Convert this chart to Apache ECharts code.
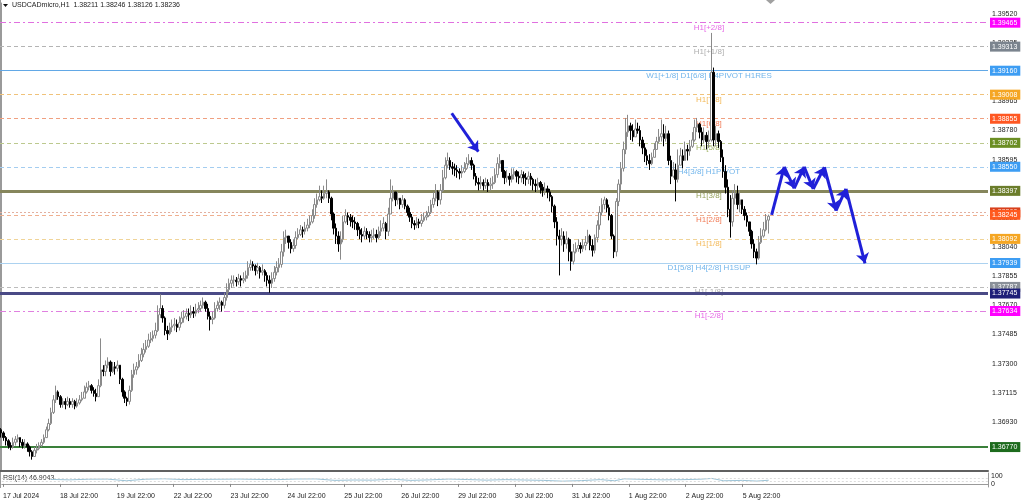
<!DOCTYPE html>
<html><head><meta charset="utf-8">
<script src="https://cdn.jsdelivr.net/npm/echarts@6/dist/echarts.min.js"></script>
<style>html,body{margin:0;padding:0;background:#fff}#c{width:1024px;height:503px}</style>
</head><body><div id="c"></div>
<script>
// ---------- DATA ----------
const symbolTitle = 'USDCADmicro,H1  1.38211 1.38246 1.38126 1.38236';
const dateLabels = ['17 Jul 2024','18 Jul 22:00','19 Jul 22:00','22 Jul 22:00','23 Jul 22:00','24 Jul 22:00','25 Jul 22:00','26 Jul 22:00','29 Jul 22:00','30 Jul 22:00','31 Jul 22:00','1 Aug 22:00','2 Aug 22:00','5 Aug 22:00'];
const barsPerLabel = 24;
const firstOpen = 1.3688;
const closes = [
1.3686,1.3683,1.3681,1.3678,1.3677,1.3680,1.3682,1.3683,1.3680,1.3678,1.3679,1.3677,1.3674,1.3671,1.3675,1.3676,1.3678,1.3680,1.3683,1.3688,1.3692,1.3699,1.3707,1.3712,
1.3709,1.3704,1.3706,1.3704,1.3706,1.3704,1.3706,1.3703,1.3705,1.3707,1.3708,1.3712,1.3715,1.3716,1.3713,1.3711,1.3709,1.3716,1.3726,1.3725,1.3729,1.3731,1.3725,1.3728,
1.3727,1.3729,1.3720,1.3712,1.3708,1.3706,1.3713,1.3723,1.3726,1.3728,1.3732,1.3736,1.3739,1.3741,1.3745,1.3746,1.3748,1.3751,1.3761,1.3765,1.3759,1.3751,1.3749,1.3753,
1.3754,1.3755,1.3753,1.3756,1.3759,1.3760,1.3762,1.3761,1.3763,1.3762,1.3764,1.3765,1.3767,1.3769,1.3765,1.3760,1.3758,1.3759,1.3765,1.3767,1.3769,1.3767,1.3772,1.3777,
1.3781,1.3783,1.3783,1.3782,1.3784,1.3783,1.3784,1.3786,1.3791,1.3793,1.3792,1.3789,1.3791,1.3788,1.3789,1.3786,1.3783,1.3781,1.3784,1.3788,1.3791,1.3793,1.3801,1.3810,
1.3811,1.3807,1.3803,1.3805,1.3810,1.3812,1.3815,1.3814,1.3816,1.3818,1.3820,1.3824,1.3831,1.3834,1.3836,1.3835,1.3838,1.3839,1.3835,1.3825,1.3816,1.3811,1.3806,1.3809,
1.3820,1.3824,1.3823,1.3821,1.3820,1.3819,1.3815,1.3812,1.3811,1.3814,1.3812,1.3810,1.3811,1.3812,1.3810,1.3814,1.3816,1.3819,1.3814,1.3825,1.3835,1.3839,1.3834,1.3835,
1.3831,1.3834,1.3830,1.3826,1.3823,1.3819,1.3818,1.3820,1.3819,1.3821,1.3823,1.3824,1.3826,1.3831,1.3835,1.3839,1.3834,1.3840,1.3848,1.3856,1.3859,1.3855,1.3854,1.3853,
1.3852,1.3851,1.3852,1.3854,1.3857,1.3859,1.3856,1.3849,1.3845,1.3844,1.3845,1.3843,1.3845,1.3843,1.3844,1.3845,1.3850,1.3857,1.3859,1.3852,1.3848,1.3849,1.3847,1.3850,
1.3852,1.3849,1.3848,1.3850,1.3848,1.3847,1.3849,1.3847,1.3844,1.3843,1.3845,1.3842,1.3840,1.3841,1.3839,1.3836,1.3830,1.3820,1.3811,1.3809,1.3811,1.3806,1.3809,1.3801,
1.3795,1.3801,1.3803,1.3805,1.3803,1.3805,1.3807,1.3811,1.3805,1.3802,1.3810,1.3818,1.3826,1.3831,1.3834,1.3829,1.3824,1.3811,1.3801,1.3833,1.3844,1.3854,1.3866,1.3877,
1.3881,1.3878,1.3874,1.3879,1.3878,1.3872,1.3867,1.3862,1.3859,1.3857,1.3861,1.3866,1.3871,1.3874,1.3876,1.3873,1.3876,1.3859,1.3849,1.3853,1.3847,1.3856,1.3862,1.3859,
1.3866,1.3865,1.3868,1.3872,1.3880,1.3882,1.3877,1.3872,1.3875,1.3871,1.3872,1.3915,1.3872,1.3876,1.3871,1.3861,1.3852,1.3842,1.3828,1.3820,1.3835,1.3838,1.3831,1.3834,
1.3828,1.3824,1.3820,1.3814,1.3806,1.3801,1.3797,1.3807,1.3811,1.3815,1.38211,1.38236
];
const highs = [
1.3689,1.3687,1.3684,1.3682,1.3680,1.3683,1.3684,1.3685,1.3683,1.3682,1.3682,1.3680,1.3678,1.3675,1.3677,1.3679,1.3680,1.3682,1.3685,1.3690,1.3695,1.3702,1.3710,1.3716,
1.3713,1.3710,1.3708,1.3708,1.3709,1.3708,1.3708,1.3707,1.3708,1.3710,1.3712,1.3716,1.3718,1.3719,1.3717,1.3715,1.3714,1.3720,1.3746,1.3729,1.3732,1.3734,1.3732,1.3731,
1.3731,1.3732,1.3729,1.3721,1.3713,1.3709,1.3716,1.3726,1.3730,1.3731,1.3736,1.3740,1.3743,1.3745,1.3749,1.3750,1.3751,1.3756,1.3767,1.3774,1.3767,1.3760,1.3754,1.3756,
1.3758,1.3759,1.3758,1.3760,1.3763,1.3764,1.3765,1.3765,1.3767,1.3766,1.3768,1.3769,1.3770,1.3772,1.3770,1.3768,1.3763,1.3763,1.3769,1.3770,1.3772,1.3770,1.3775,1.3781,
1.3784,1.3786,1.3786,1.3785,1.3787,1.3786,1.3788,1.3789,1.3795,1.3796,1.3795,1.3793,1.3794,1.3792,1.3793,1.3790,1.3788,1.3786,1.3788,1.3792,1.3795,1.3797,1.3806,1.3814,
1.3815,1.3811,1.3809,1.3809,1.3814,1.3816,1.3818,1.3817,1.3820,1.3822,1.3824,1.3828,1.3835,1.3838,1.3843,1.3840,1.3843,1.3847,1.3840,1.3836,1.3826,1.3819,1.3814,1.3814,
1.3824,1.3828,1.3826,1.3825,1.3824,1.3823,1.3820,1.3817,1.3816,1.3817,1.3816,1.3814,1.3815,1.3816,1.3815,1.3817,1.3821,1.3823,1.3820,1.3829,1.3847,1.3843,1.3839,1.3839,
1.3835,1.3837,1.3835,1.3831,1.3829,1.3825,1.3821,1.3823,1.3822,1.3825,1.3826,1.3827,1.3830,1.3834,1.3839,1.3844,1.3840,1.3844,1.3853,1.3861,1.3864,1.3861,1.3858,1.3857,
1.3856,1.3854,1.3856,1.3858,1.3861,1.3863,1.3861,1.3857,1.3851,1.3848,1.3849,1.3847,1.3848,1.3847,1.3848,1.3849,1.3854,1.3861,1.3863,1.3859,1.3853,1.3853,1.3851,1.3854,
1.3854,1.3853,1.3852,1.3853,1.3852,1.3851,1.3852,1.3851,1.3848,1.3847,1.3848,1.3846,1.3844,1.3845,1.3843,1.3841,1.3837,1.3831,1.3823,1.3815,1.3816,1.3814,1.3814,1.3810,
1.3809,1.3806,1.3807,1.3809,1.3807,1.3809,1.3811,1.3815,1.3812,1.3809,1.3812,1.3821,1.3830,1.3835,1.3836,1.3835,1.3831,1.3825,1.3812,1.3835,1.3847,1.3858,1.3871,1.3886,
1.3888,1.3883,1.3882,1.3885,1.3883,1.3881,1.3874,1.3870,1.3866,1.3863,1.3864,1.3870,1.3874,1.3879,1.3885,1.3882,1.3881,1.3878,1.3862,1.3858,1.3857,1.3866,1.3867,1.3866,
1.3871,1.3869,1.3872,1.3877,1.3885,1.3886,1.3883,1.3880,1.3880,1.3877,1.3878,1.3940,1.3918,1.3881,1.3878,1.3872,1.3866,1.3856,1.3847,1.3837,1.3840,1.3844,1.3843,1.3840,
1.3834,1.3830,1.3826,1.3820,1.3815,1.3809,1.3803,1.3811,1.3816,1.3820,1.3825,1.38246
];
const lows = [
1.3683,1.3681,1.3678,1.3676,1.3675,1.3676,1.3678,1.3680,1.3677,1.3676,1.3676,1.3674,1.3671,1.3669,1.3671,1.3673,1.3675,1.3677,1.3679,1.3683,1.3687,1.3691,1.3698,1.3705,
1.3707,1.3702,1.3702,1.3701,1.3703,1.3702,1.3702,1.3701,1.3702,1.3704,1.3706,1.3708,1.3711,1.3713,1.3711,1.3709,1.3706,1.3709,1.3715,1.3722,1.3722,1.3727,1.3722,1.3724,
1.3723,1.3725,1.3717,1.3709,1.3705,1.3703,1.3704,1.3712,1.3721,1.3723,1.3727,1.3731,1.3734,1.3737,1.3740,1.3743,1.3744,1.3746,1.3750,1.3759,1.3756,1.3748,1.3745,1.3748,
1.3750,1.3751,1.3750,1.3751,1.3755,1.3756,1.3758,1.3757,1.3759,1.3759,1.3760,1.3762,1.3763,1.3765,1.3763,1.3758,1.3751,1.3755,1.3758,1.3763,1.3764,1.3763,1.3765,1.3770,
1.3775,1.3778,1.3779,1.3779,1.3780,1.3779,1.3781,1.3782,1.3784,1.3789,1.3789,1.3786,1.3787,1.3784,1.3786,1.3782,1.3779,1.3775,1.3778,1.3782,1.3786,1.3788,1.3791,1.3798,
1.3806,1.3803,1.3800,1.3801,1.3803,1.3809,1.3811,1.3810,1.3812,1.3814,1.3816,1.3819,1.3822,1.3829,1.3833,1.3832,1.3834,1.3835,1.3832,1.3821,1.3812,1.3806,1.3801,1.3796,
1.3807,1.3819,1.3818,1.3817,1.3816,1.3815,1.3811,1.3809,1.3807,1.3809,1.3809,1.3807,1.3807,1.3809,1.3807,1.3809,1.3811,1.3814,1.3809,1.3811,1.3826,1.3833,1.3830,1.3831,
1.3828,1.3829,1.3828,1.3824,1.3820,1.3816,1.3815,1.3816,1.3816,1.3817,1.3820,1.3821,1.3823,1.3825,1.3829,1.3833,1.3830,1.3831,1.3839,1.3847,1.3854,1.3853,1.3850,1.3849,
1.3848,1.3847,1.3848,1.3851,1.3853,1.3856,1.3853,1.3847,1.3843,1.3840,1.3841,1.3840,1.3841,1.3839,1.3840,1.3841,1.3844,1.3848,1.3854,1.3848,1.3844,1.3845,1.3843,1.3845,
1.3847,1.3845,1.3844,1.3845,1.3844,1.3843,1.3844,1.3843,1.3840,1.3839,1.3840,1.3838,1.3836,1.3837,1.3835,1.3833,1.3826,1.3816,1.3805,1.3786,1.3805,1.3801,1.3803,1.3795,
1.3789,1.3793,1.3800,1.3801,1.3800,1.3801,1.3802,1.3806,1.3802,1.3798,1.3800,1.3807,1.3815,1.3824,1.3828,1.3826,1.3821,1.3809,1.3797,1.3798,1.3830,1.3840,1.3852,1.3863,
1.3874,1.3872,1.3871,1.3874,1.3876,1.3868,1.3863,1.3858,1.3856,1.3853,1.3856,1.3861,1.3866,1.3870,1.3871,1.3868,1.3871,1.3856,1.3844,1.3848,1.3833,1.3845,1.3857,1.3854,
1.3861,1.3859,1.3862,1.3867,1.3871,1.3877,1.3873,1.3868,1.3870,1.3866,1.3867,1.3871,1.3868,1.3868,1.3867,1.3858,1.3848,1.3838,1.3823,1.3810,1.3817,1.3831,1.3828,1.3826,
1.3825,1.3821,1.3817,1.3811,1.3803,1.3797,1.3793,1.3796,1.3806,1.3810,1.3814,1.38126
];
const yTicks = [1.39520,1.39335,1.39150,1.38965,1.38780,1.38595,1.38410,1.38225,1.38040,1.37855,1.37670,1.37485,1.37300,1.37115,1.36930];
const levelPrices = [1.39465,1.39313,1.39160,1.39008,1.38855,1.38702,1.38550,1.38397,1.38260,1.38245,1.38092,1.37939,1.37787,1.37745,1.37634,1.36770];
const levelLabels = ['H1[+2/8]','H1[+1/8]','W1[+1/8] D1[6/8] H4PIVOT H1RES','H1[7/8]','H1[6/8]','H1[5/8]','H4[3/8] H1PIVOT','H1[3/8]','','H1[2/8]','H1[1/8]','D1[5/8] H4[2/8] H1SUP','H1[-1/8]','','H1[-2/8]',''];
const rsiName = 'RSI(14) 46.9043';
const rsiBars = [20,28,36,44,52,60,68,76,84,92,100,108,116,124,132,140,148,156,164,172,180,188,196,204,212,220,228,236,244,252,258,262,270,278,286,294,299,304,312,318,323];
const rsiValues = [58,52,60,62,40,60,66,55,58,60,62,57,55,63,64,45,50,48,60,45,52,62,56,48,55,50,45,35,42,55,40,65,58,52,54,60,70,40,45,36,47];
const rsiScaleLabels = [0, 100];
// hand-drawn arrows: [bar position, price]
const arrowDown = [[189.7,1.38890],[200.9,1.38646]];
const zigzag = [[324.4,1.38244],[329.7,1.38550],[333.9,1.38413],[338.1,1.38550],[341.9,1.38409],[346.6,1.38547],[351.5,1.38271],[355.7,1.38409],[363.7,1.37937]];

// ---------- LAYOUT / STYLE ----------
const slots = 416;          // bar slots incl. right-hand chart shift
const levelTextBar = 298;   // where level names are written
const FONT = 'Liberation Sans, Arial, sans-serif';
const levelStyles = [
 {line:'#e070e0', type:[6,3,2,3], w:1, box:'#ff00ff', text:'#e040e0'},
 {line:'#b4b4b4', type:[4,3], w:1, box:'#7b848e', text:'#9a9a9a'},
 {line:'#62a8e6', type:'solid', w:1, box:'#3d9df3', text:'#4fa3e6'},
 {line:'#f0c27a', type:[4,3], w:1, box:'#f5a623', text:'#f0a830'},
 {line:'#f0a080', type:[4,3], w:1, box:'#ff5722', text:'#ee5a2c'},
 {line:'#bcc98e', type:[4,3], w:1, box:'#6b8e23', text:'#8aa040'},
 {line:'#a4cdf0', type:[4,3], w:1, box:'#3d9df3', text:'#4fa3e6'},
 {line:'#86865c', type:'solid', w:3, box:'#6b7d2b', text:'#7a8a30'},
 {line:'#e2b0a0', type:[2,2], w:1, box:'#d8401c', text:'#ee5a2c'},
 {line:'#f0b090', type:[4,3], w:1, box:'#ff5a1e', text:'#ee5a2c'},
 {line:'#f0d498', type:[4,3], w:1, box:'#f5a623', text:'#f0a830'},
 {line:'#acd2f0', type:'solid', w:1, box:'#3d9df3', text:'#4fa3e6'},
 {line:'#bcbcbc', type:[4,3], w:1, box:'#8a9099', text:'#9a9a9a'},
 {line:'#4a4a86', type:'solid', w:3, box:'#1e1e78', text:'#9a9a9a'},
 {line:'#e080e0', type:[6,3,2,3], w:1, box:'#ff00ff', text:'#e040e0'},
 {line:'#3a803a', type:'solid', w:2, box:'#1d6b1d', text:'#3a803a'}
];

const candles = closes.map((c, i) => {
  const o = i ? closes[i-1] : firstOpen;
  return [o, c, Math.min(lows[i], o, c), Math.max(highs[i], o, c)];
});
const cats = Array.from({length: slots}, (_, i) => 'b' + i);
const labelAt = idx => (idx % barsPerLabel === 0 && idx / barsPerLabel < dateLabels.length) ? dateLabels[idx / barsPerLabel] : '';

const segs = [];
for (let k = 0; k < zigzag.length - 1; k++) segs.push({coords: [zigzag[k], zigzag[k+1]]});
segs.push({coords: [arrowDown[0], arrowDown[1]]});

const chart = echarts.init(document.getElementById('c'), null, {renderer:'canvas'});
chart.setOption({
  animation: false,
  backgroundColor: '#ffffff',
  textStyle: {fontFamily: FONT},
  grid: [
    {left: 0, top: 3, width: 988, height: 468, containLabel: false},
    {left: 0, top: 473, width: 988, height: 14, containLabel: false}
  ],
  xAxis: [
    {type:'category', gridIndex:0, data:cats, boundaryGap:true,
     axisLine:{show:true, lineStyle:{color:'#606060', width:2}}, axisTick:{show:false}, axisLabel:{show:false}, splitLine:{show:false}},
    {type:'value', gridIndex:0, min:-0.5, max:slots-0.5, show:false},
    {type:'category', gridIndex:1, data:cats, boundaryGap:true,
     axisLine:{show:true, lineStyle:{color:'#9a9a9a', width:1}},
     axisTick:{show:true, length:3, alignWithLabel:true, interval:(i)=>labelAt(i)!=='', lineStyle:{color:'#888'}},
     axisLabel:{show:true, interval:(i)=>labelAt(i)!=='', formatter:(v, i)=>labelAt(i), align:'left', margin:6, fontSize:7, color:'#222', fontFamily:FONT},
     splitLine:{show:false}}
  ],
  yAxis: [
    {type:'value', gridIndex:0, position:'right', min:1.36618, max:1.39590, scale:true,
     axisLine:{show:true, lineStyle:{color:'#9a9a9a'}}, axisTick:{show:false}, splitLine:{show:false},
     axisLabel:{show:true, customValues:yTicks, formatter:(v)=>v.toFixed(5), fontSize:7, color:'#222', margin:4, fontFamily:FONT}},
    {type:'value', gridIndex:1, position:'right', min:-40, max:140,
     axisLine:{show:true, lineStyle:{color:'#9a9a9a'}}, axisTick:{show:false}, splitLine:{show:false},
     axisLabel:{show:true, customValues:rsiScaleLabels, formatter:(v)=>String(v), fontSize:7, color:'#222', margin:3, fontFamily:FONT}}
  ],
  series: [
    {type:'line', name:'levels', xAxisIndex:1, yAxisIndex:0, z:1, silent:true,
     data:[[-0.5, levelPrices[0]]], symbol:'none', lineStyle:{opacity:0},
     markLine:{silent:true, symbol:'none', animation:false, precision:5,
       data: levelPrices.map((p, i) => ({
         yAxis: p,
         lineStyle: {color: levelStyles[i].line, type: levelStyles[i].type, width: levelStyles[i].w},
         label: {show:true, position:'end', distance:2, formatter: p.toFixed(5), color:'#ffffff',
                 backgroundColor: levelStyles[i].box, padding:[1,3,1,2], fontSize:7, fontFamily:FONT, lineHeight:8}
       }))}},
    {type:'scatter', name:'levelNames', xAxisIndex:1, yAxisIndex:0, z:2, silent:true,
     symbolSize:1, itemStyle:{color:'rgba(0,0,0,0)'},
     data: levelPrices.map((p, i) => levelLabels[i] ? {value:[levelTextBar, p], name: levelLabels[i],
        label:{color: levelStyles[i].text}} : null).filter(Boolean),
     label:{show:true, position:'inside', offset:[0,5], formatter:(pr)=>pr.name, fontSize:8, fontFamily:FONT}},
    {type:'candlestick', name:'USDCADmicro', xAxisIndex:0, yAxisIndex:0, z:5, silent:true,
     data: candles, barWidth:'80%',
     itemStyle:{color:'#ffffff', color0:'#000000', borderColor:'#8a8a8a', borderColor0:'#000000', borderWidth:1}},
    {type:'lines', name:'arrows', coordinateSystem:'cartesian2d', xAxisIndex:1, yAxisIndex:0, z:10, silent:true,
     symbol:['none','arrow'], symbolSize:10,
     lineStyle:{color:'#2020d8', width:3, opacity:1, curveness:0},
     data: segs},
    {type:'line', name:'RSI', xAxisIndex:2, yAxisIndex:1, z:3, silent:true,
     data: rsiBars.map((b, i) => [b, rsiValues[i]]), symbol:'none',
     lineStyle:{color:'#9cc3d6', width:1},
     markLine:{silent:true, symbol:'none', label:{show:false}, lineStyle:{color:'#dcdcdc', type:[2,2], width:1},
       data:[{yAxis:30},{yAxis:70}]}}
  ],
  graphic: [
    {type:'line', shape:{x1:0.5, y1:0, x2:0.5, y2:488}, style:{stroke:'#9a9a9a', lineWidth:1}, silent:true},
    {type:'polygon', shape:{points:[[3,4],[8,4],[5.5,7]]}, style:{fill:'#111'}, silent:true},
    {type:'text', left:12, top:2, style:{text:symbolTitle, font:'7px ' + FONT, fill:'#222'}, silent:true},
    {type:'polygon', shape:{points:[[766,0],[775,0],[770.5,4]]}, style:{fill:'#a0a0a0'}, silent:true},
    {type:'text', left:3, top:475, style:{text:rsiName, font:'7px ' + FONT, fill:'#333'}, silent:true}
  ]
});
</script></body></html>
